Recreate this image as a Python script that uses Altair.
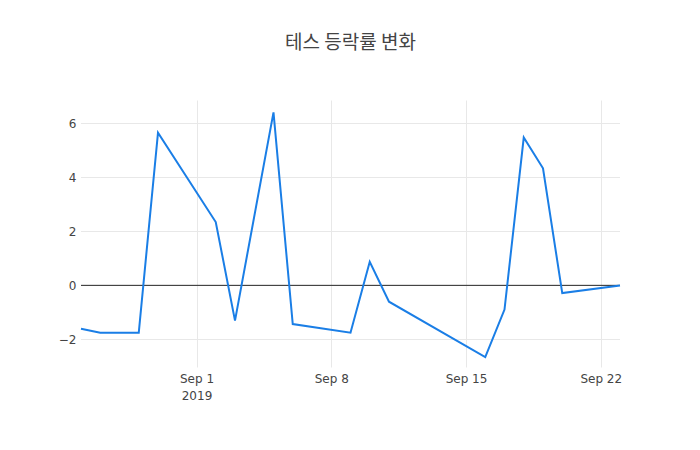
import altair as alt
import pandas as pd

dates = ["2019-08-26", "2019-08-27", "2019-08-29", "2019-08-30", "2019-09-02",
         "2019-09-03", "2019-09-05", "2019-09-06", "2019-09-09", "2019-09-10",
         "2019-09-11", "2019-09-16", "2019-09-17", "2019-09-18", "2019-09-19",
         "2019-09-20", "2019-09-23"]
rates = [-1.60, -1.75, -1.75, 5.66, 2.35,
         -1.30, 6.41, -1.43, -1.75, 0.88,
         -0.60, -2.65, -0.89, 5.48, 4.34,
         -0.28, 0.00]
title_text = "테스 등락률 변화"
y_ticks = [-2, 0, 2, 4, 6]

df = pd.DataFrame({"date": dates, "rate": rates})
grid_df = pd.DataFrame({"rate": [v for v in y_ticks if v != 0]})

tick_dates = [alt.DateTime(year=2019, month=9, date=d, utc=True) for d in [1, 8, 15, 22]]

x_enc = alt.X(
    "date:T",
    scale=alt.Scale(type="utc", domain=[alt.DateTime(year=2019, month=8, date=26, utc=True),
                                        alt.DateTime(year=2019, month=9, date=23, utc=True)], nice=False),
    axis=alt.Axis(
        title=None, values=tick_dates, domain=False, ticks=False, tickSize=0,
        labelPadding=6, labelLineHeight=17,
        labelExpr="utcdate(datum.value) == 1 ? [utcFormat(datum.value, '%b %-d'), utcFormat(datum.value, '%Y')] : utcFormat(datum.value, '%b %-d')",
        gridColor="#e8e8e8", labelColor="#444444", labelFontSize=12, labelFont="DejaVu Sans",
    ),
)
y_scale = alt.Scale(domain=[-3.01852, 6.87037], nice=False, zero=False)
y_axis = alt.Axis(
    title=None, values=y_ticks, domain=False, ticks=False, tickSize=0, grid=False,
    labelPadding=5, labelColor="#444444", labelFontSize=12, labelFont="DejaVu Sans",
)
y_enc = alt.Y("rate:Q", scale=y_scale, axis=y_axis)

hgrid = alt.Chart(grid_df).mark_rule(color="#e8e8e8", strokeWidth=1).encode(y=y_enc)
zero = alt.Chart(df).mark_rule(color="#444444", strokeWidth=1).encode(y=alt.datum(0))
line = alt.Chart(df).mark_line(color="#1a7ee6", strokeWidth=2).encode(x=x_enc, y=y_enc)

chart = alt.layer(hgrid, zero, line).properties(
    width=539, height=267,
    title=alt.TitleParams(title_text, anchor="middle", fontSize=19, font="Noto Sans CJK KR",
                          fontWeight="normal", color="#444444", offset=47),
    autosize=alt.AutoSizeParams(type="none"),
    padding={"left": 73, "top": 92, "right": 72, "bottom": 70},
).configure_view(stroke=None)

chart.save("out.html", embed_options={"renderer": "svg", "actions": False})
